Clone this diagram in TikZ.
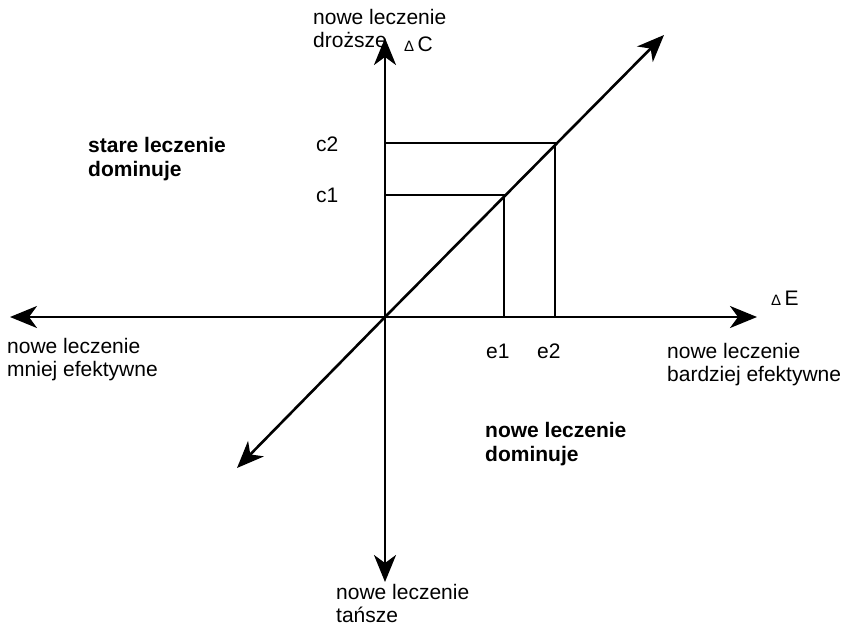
\documentclass[tikz,border=0pt]{standalone}
\usepackage{fontspec}
\setmainfont{Liberation Sans}
\usetikzlibrary{arrows.meta}
\begin{document}
\begin{tikzpicture}[x=1pt,y=-1pt,
  axis/.style={line width=2.6pt,-{Stealth[length=27pt,width=22pt,inset=8pt]}},
  guide/.style={line width=2.2pt},
  lbl/.style={font=\fontsize{21}{23}\selectfont,align=left,inner sep=0pt,anchor=north west},
  blbl/.style={lbl,font=\fontsize{21}{24}\selectfont\bfseries},
  tick/.style={font=\fontsize{21}{25}\selectfont,inner sep=0pt,anchor=base west}]
\useasboundingbox (0,0) rectangle (849,630);
% axes points
\coordinate (O) at (385,317);
\coordinate (T) at (385,38);
\coordinate (B) at (385,582);
\coordinate (L) at (10,317);
\coordinate (R) at (757,317);
\coordinate (DL) at (237,468);
\coordinate (DR) at (664,35);
% rectangles
\coordinate (C1) at (385,195);
\coordinate (P1) at (504,195);
\coordinate (E1) at (504,317);
\coordinate (C2) at (385,143);
\coordinate (P2) at (555,143);
\coordinate (E2) at (555,317);
\draw[guide] (C1) -- (P1) -- (E1);
\draw[guide] (C2) -- (P2) -- (E2);
\draw[axis] (O) -- (T);
\draw[axis] (O) -- (B);
\draw[axis] (O) -- (L);
\draw[axis] (O) -- (R);
\draw[axis] (O) -- (DL);
\draw[axis] (O) -- (DR);
% labels
\node[lbl] (top) at (313,9) {nowe leczenie\\droższe};
\node[lbl] (bot) at (336,584) {nowe leczenie\\tańsze};
\node[lbl] (left) at (7,338) {nowe leczenie\\mniej efektywne};
\node[lbl] (right) at (667,343) {nowe leczenie\\bardziej efektywne};
\node[blbl] (old) at (88,137) {stare leczenie\\dominuje};
\node[blbl] (new) at (485,422) {nowe leczenie\\dominuje};
\node[tick] (dc) at (404,51) {{\fontsize{15}{15}\selectfont Δ}\,C};
\node[tick] (de) at (771,305) {{\fontsize{15}{15}\selectfont Δ}\,E};
\node[tick] (c2) at (316,151) {c2};
\node[tick] (c1) at (316,202) {c1};
\node[tick] (e1) at (486,358) {e1};
\node[tick] (e2) at (537,358) {e2};
\end{tikzpicture}
\end{document}
